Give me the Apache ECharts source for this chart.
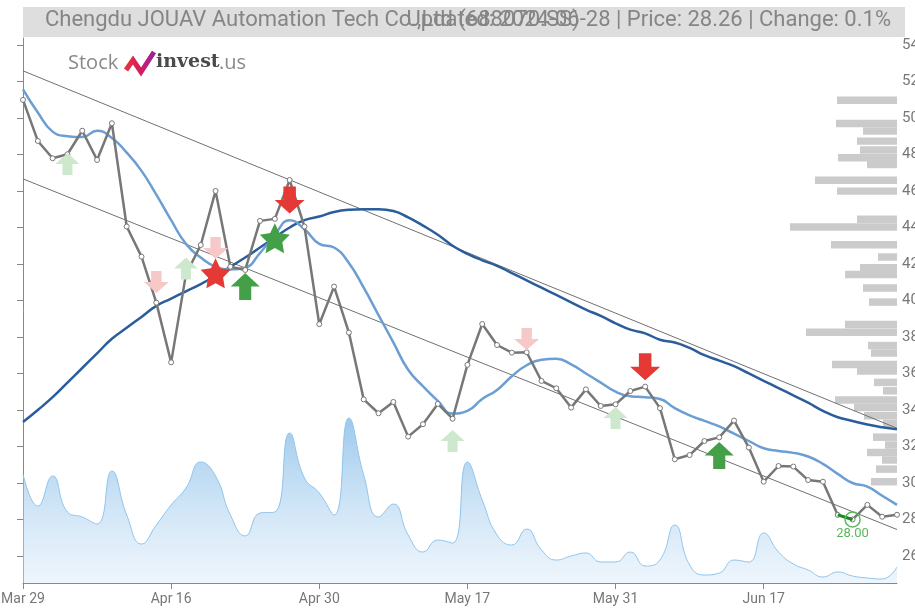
<!DOCTYPE html>
<html>
<head>
<meta charset="utf-8">
<title>Chengdu JOUAV Automation Tech</title>
<script src="https://cdn.jsdelivr.net/npm/echarts@6.0.0/dist/echarts.min.js"></script>
<style>
  html, body { margin: 0; padding: 0; background: #fff; }
  #chart { width: 915px; height: 610px; }
</style>
</head>
<body>
<div id="chart"></div>
<script>
  // x axis labels, one every 10 trading days (index 0, 10, 20 ...)
  var tickLabels = ['Mar 29', 'Apr 16', 'Apr 30', 'May 17', 'May 31', 'Jun 17'];
  var priceTicks = [26, 28, 30, 32, 34, 36, 38, 40, 42, 44, 46, 48, 50, 52, 54];

  // daily close, Mar 29 -> Jun 28 (60 trading days)
  var closes = [50.99, 48.74, 47.79, 48.01, 49.30, 47.70, 49.71, 44.05, 42.40, 39.88,
    36.61, 41.43, 43.04, 46.00, 41.85, 41.67, 44.36, 44.47, 46.60, 44.05,
    38.70, 40.76, 38.24, 34.58, 33.82, 34.44, 32.54, 33.22, 34.33, 33.52,
    36.47, 38.71, 37.56, 37.14, 37.16, 35.59, 35.19, 34.13, 35.13, 34.22,
    34.31, 35.04, 35.28, 34.10, 31.30, 31.53, 32.30, 32.50, 33.42, 31.94,
    30.07, 30.93, 30.90, 30.16, 30.07, 28.25, 28.00, 28.80, 28.15, 28.26];

  // short moving average (light blue)
  var maShort = [51.57, 50.30, 49.25, 49.00, 48.95, 49.30, 48.90, 48.10, 47.10, 45.80,
    44.40, 43.10, 42.35, 41.85, 41.70, 41.80, 42.60, 43.60, 44.40, 43.90,
    43.10, 42.90, 42.05, 40.70, 39.20, 37.70, 36.20, 35.30, 34.50, 33.80,
    33.95, 34.60, 35.10, 35.85, 36.45, 36.75, 36.80, 36.50, 36.00, 35.50,
    35.00, 34.75, 34.70, 34.60, 34.10, 33.70, 33.40, 33.10, 32.70, 32.30,
    31.90, 31.75, 31.65, 31.45, 31.05, 30.50, 30.00, 29.80, 29.30, 28.80];

  // long moving average (dark blue)
  var maLong = [33.34, 34.00, 34.70, 35.50, 36.30, 37.10, 37.90, 38.50, 39.10, 39.70,
    40.10, 40.50, 40.90, 41.35, 41.85, 42.35, 42.90, 43.45, 44.00, 44.40,
    44.60, 44.85, 44.97, 45.00, 45.00, 44.90, 44.55, 44.10, 43.60, 43.00,
    42.55, 42.20, 41.90, 41.50, 41.10, 40.70, 40.30, 39.90, 39.50, 39.15,
    38.75, 38.40, 38.20, 37.85, 37.70, 37.40, 37.00, 36.70, 36.40, 36.00,
    35.60, 35.20, 34.80, 34.40, 33.95, 33.60, 33.40, 33.20, 33.05, 32.94];

  // daily volume (relative units)
  var volume = [109, 77, 107, 71, 66, 59, 112, 68, 39, 58,
    78, 95, 121, 107, 68, 47, 70, 71, 150, 105,
    90, 68, 165, 108, 66, 79, 48, 31, 43, 40,
    121, 83, 48, 38, 54, 33, 23, 27, 30, 21,
    21, 31, 17, 23, 58, 18, 8, 10, 23, 21,
    50, 31, 19, 13, 6, 11, 7, 5, 4, 16];

  // trend channel, price at first and last day
  var channelUpper = [52.58, 33.00];
  var channelLower = [46.66, 27.45];

  // volume by price (right side histogram)
  var profilePrice = [50.97, 49.69, 49.28, 48.73, 48.25, 47.82, 47.45, 46.59, 45.99, 44.45,
    44.03, 43.05, 42.38, 41.79, 41.42, 40.68, 39.91, 38.68, 38.26, 37.53,
    37.12, 36.49, 36.14, 35.51, 35.05, 34.55, 34.14, 33.68, 33.27, 32.51,
    32.08, 31.67, 31.26, 30.76, 30.07];
  var profileVol = [60, 61, 34, 40, 37, 59, 30, 82, 60, 40,
    107, 66, 19, 37, 52, 34, 28, 52, 91, 29,
    26, 65, 40, 23, 14, 62, 43, 33, 14, 24,
    12, 30, 15, 21, 26];

  // signals: [day index, price level]
  var weakBuy = [[3, 47.48], [11, 41.75], [29, 32.30], [40, 33.56]];
  var weakSell = [[9, 41.01], [13, 42.88], [34, 37.89]];
  var strongBuy = [[15, 40.76], [47, 31.51]];
  var strongSell = [[18, 45.51], [42, 36.37]];
  var starBuy = [[17, 43.41]];
  var starSell = [[13, 41.49]];
  var lowPoint = [56, 28.00];

  var upArrow = 'path://M12,0 L24,12 L17,12 L17,24 L7,24 L7,12 L0,12 Z';
  var downArrow = 'path://M7,0 L17,0 L17,12 L24,12 L12,24 L0,12 L7,12 Z';
  var star = 'path://M50,0 L64.7,29.8 L97.6,34.5 L73.8,57.7 L79.4,90.5 L50,75 L20.6,90.5 L26.2,57.7 L2.4,34.5 L35.3,29.8 Z';

  function pairs(arr) {
    return arr.map(function (v, i) { return [i, v]; });
  }

  function signalSeries(data, symbol, size, color) {
    return {
      type: 'scatter',
      data: data,
      symbol: symbol,
      symbolSize: size,
      itemStyle: { color: color, opacity: 1 },
      z: 8,
      silent: true
    };
  }

  var chart = echarts.init(document.getElementById('chart'));

  chart.setOption({
    animation: false,
    grid: { left: 23, right: 18, top: 38, bottom: 27, outerBoundsMode: 'none' },
    graphic: [
      { type: 'rect', left: 23, top: 7, shape: { width: 882, height: 30 }, style: { fill: '#dedede' }, z: 1 },
      { type: 'text', left: 45, top: 9, z: 2,
        style: { text: 'Chengdu JOUAV Automation Tech Co.,Ltd (688070.SS)', fill: '#858585', font: '22px Roboto' } },
      { type: 'text', right: 24, top: 9, z: 2,
        style: { text: 'Updated: 2024-06-28 | Price: 28.26 | Change: 0.1%', fill: '#858585', font: '22px Roboto' } },
      // logo
      { type: 'text', left: 68, top: 53, style: { text: 'Stock', fill: '#8a8a8a', font: '20px "Open Sans"' } },
      { type: 'polyline', shape: { points: [[126, 70], [133, 60], [141, 72], [154, 52]] },
        style: { stroke: new echarts.graphic.LinearGradient(0, 0, 1, 0, [
          { offset: 0, color: '#e53935' }, { offset: 0.5, color: '#d81b60' }, { offset: 1, color: '#8e24aa' }]),
          lineWidth: 5, lineJoin: 'miter' } },
      { type: 'text', left: 156, top: 53, style: { text: 'invest', fill: '#4a4a4a', font: 'bold 19px "DejaVu Serif"' } },
      { type: 'text', left: 219, top: 53, style: { text: '.us', fill: '#8a8a8a', font: '20px "Open Sans"' } }
    ],
    xAxis: [{
      type: 'value',
      min: 0,
      max: 59,
      interval: 10,
      axisLine: { lineStyle: { color: '#888' } },
      axisTick: { show: true, length: 6, lineStyle: { color: '#888' } },
      axisLabel: {
        color: '#777',
        fontSize: 14,
        fontFamily: 'Roboto',
        margin: 9,
        showMaxLabel: false,
        formatter: function (v) { return tickLabels[v / 10] || ''; }
      },
      splitLine: { show: false }
    }, {
      type: 'value',
      show: false,
      inverse: true,
      min: 0,
      max: 874
    }],
    yAxis: [{
      type: 'value',
      position: 'right',
      min: 24.52,
      max: 54.38,
      axisLine: { show: true, lineStyle: { color: '#888' } },
      axisTick: { show: true, inside: true, length: 6, lineStyle: { color: '#888' }, customValues: priceTicks },
      axisLabel: { color: '#777', fontSize: 15, fontFamily: 'Roboto', margin: 5, customValues: priceTicks },
      splitLine: { show: false }
    }, {
      type: 'value',
      show: false,
      min: 0,
      max: 545
    }],
    series: [
      {
        name: 'Volume',
        type: 'line',
        yAxisIndex: 1,
        data: pairs(volume),
        smooth: true,
        symbol: 'none',
        lineStyle: { color: '#8ec4ec', width: 1 },
        areaStyle: {
          color: new echarts.graphic.LinearGradient(0, 0, 0, 1, [
            { offset: 0, color: 'rgba(108,174,228,0.95)' },
            { offset: 1, color: 'rgba(214,232,248,0.6)' }
          ])
        },
        z: 1
      },
      {
        name: 'Profile',
        type: 'custom',
        xAxisIndex: 1,
        data: profileVol.map(function (v, i) { return [v, profilePrice[i]]; }),
        encode: { x: 0, y: 1 },
        renderItem: function (params, api) {
          var right = api.coord([0, api.value(1)]);
          var left = api.coord([api.value(0), api.value(1)]);
          var h = api.size([0, 0.41])[1];
          return {
            type: 'rect',
            shape: { x: left[0], y: left[1] - h / 2, width: right[0] - left[0], height: h },
            style: { fill: '#cbcbcb' }
          };
        },
        z: 2
      },
      {
        name: 'Upper',
        type: 'line',
        data: [[0, channelUpper[0]], [59, channelUpper[1]]],
        symbol: 'none',
        lineStyle: { color: '#707070', width: 1 },
        z: 3
      },
      {
        name: 'Lower',
        type: 'line',
        data: [[0, channelLower[0]], [59, channelLower[1]]],
        symbol: 'none',
        lineStyle: { color: '#707070', width: 1 },
        z: 3
      },
      {
        name: 'MA long',
        type: 'line',
        data: pairs(maLong),
        smooth: true,
        symbol: 'none',
        lineStyle: { color: '#2b5d9c', width: 2.5 },
        z: 4
      },
      {
        name: 'MA short',
        type: 'line',
        data: pairs(maShort),
        smooth: true,
        symbol: 'none',
        lineStyle: { color: '#6b9ed2', width: 2.5 },
        z: 5
      },
      {
        name: 'Close',
        type: 'line',
        data: pairs(closes),
        symbol: 'circle',
        symbolSize: 5,
        showAllSymbol: true,
        lineStyle: { color: '#777', width: 2.5 },
        itemStyle: { color: '#fff', borderColor: '#777', borderWidth: 1 },
        z: 6
      },
      {
        name: 'Low leg',
        type: 'line',
        data: [[lowPoint[0] - 1, closes[lowPoint[0] - 1]], lowPoint],
        symbol: 'none',
        lineStyle: { color: '#1e8c1e', width: 3 },
        z: 7
      },
      {
        name: 'Low',
        type: 'scatter',
        data: [lowPoint],
        symbol: 'circle',
        symbolSize: 15,
        itemStyle: { color: 'rgba(0,0,0,0)', borderColor: '#5cb85c', borderWidth: 1.5, opacity: 1 },
        label: {
          show: true,
          position: 'bottom',
          distance: 0,
          color: '#5cb85c',
          fontSize: 13,
          fontFamily: 'Roboto',
          formatter: function (p) { return p.value[1].toFixed(2); }
        },
        z: 9
      },
      signalSeries(weakBuy, upArrow, [24, 22], '#cde8cd'),
      signalSeries(weakSell, downArrow, [25, 22], '#f7c8c8'),
      signalSeries(strongBuy, upArrow, [29, 27], '#43a047'),
      signalSeries(strongSell, downArrow, [30, 27], '#e53935'),
      signalSeries(starBuy, star, 30, '#43a047'),
      signalSeries(starSell, star, 30, '#e53935')
    ]
  });
</script>
</body>
</html>
